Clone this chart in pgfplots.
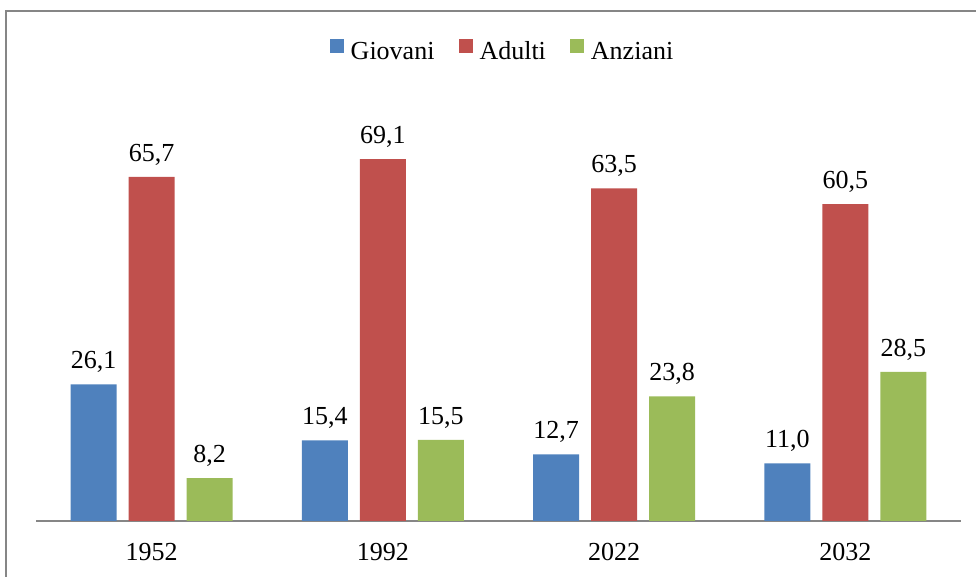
\documentclass[border=0pt]{standalone}
\usepackage{pgfplots}
\pgfplotsset{compat=1.18}
\usepackage{fontspec}
\setmainfont{Liberation Serif}
\definecolor{cblue}{HTML}{4F81BD}
\definecolor{cred}{HTML}{C0504D}
\definecolor{cgreen}{HTML}{9BBB59}
\definecolor{framec}{HTML}{868686}
\begin{document}
\begin{tikzpicture}[font=\fontsize{26pt}{31pt}\selectfont]
\useasboundingbox (0,0) rectangle (976pt,577pt);
\draw[framec, line width=2pt] (6pt,-5pt) -- (6pt,566pt) -- (990pt,566pt);
\begin{axis}[
  at={(36pt,56pt)}, anchor=south west,
  scale only axis, width=925pt, height=418.9pt,
  xmin=-0.5, xmax=3.5, ymin=0, ymax=80,
  ybar=12pt, bar width=46pt,
  axis x line*=bottom, axis y line=none,
  x axis line style={-, draw=framec, line width=1.2pt},
  xtick={0,1,2,3}, xticklabels={1952,1992,2022,2032},
  xtick style={draw=none},
  xticklabel style={font=\fontsize{26pt}{31pt}\selectfont, yshift=-14pt},
  clip=false,
  /pgf/number format/.cd, fixed, fixed zerofill, precision=1, use comma, assume math mode=true,
  /pgfplots/.cd,
  nodes near coords,
  nodes near coords style={font=\fontsize{26pt}{31pt}\selectfont, anchor=south, yshift=8pt},
  legend style={at={(0.5,1.129)}, anchor=center, xshift=4pt, yshift=-3pt, draw=none, legend columns=3,
    font=\fontsize{26pt}{31pt}\selectfont,
    /tikz/every odd column/.append style={column sep=5pt},
    /tikz/every even column/.append style={column sep=22pt}},
  legend image code/.code={\fill[#1] (0pt,-1pt) rectangle (14pt,13pt);},
]
\addplot[fill=cblue, draw=none] coordinates {(0,26.1) (1,15.4) (2,12.7) (3,11.0)};
\addplot[fill=cred, draw=none] coordinates {(0,65.7) (1,69.1) (2,63.5) (3,60.5)};
\addplot[fill=cgreen, draw=none] coordinates {(0,8.2) (1,15.5) (2,23.8) (3,28.5)};
\legend{Giovani, Adulti, Anziani}
\end{axis}
\end{tikzpicture}
\end{document}
